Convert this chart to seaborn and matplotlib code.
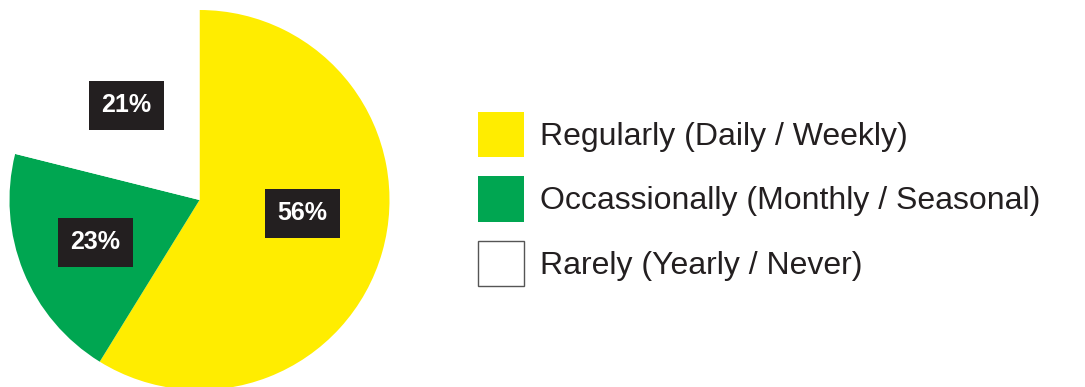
import matplotlib
matplotlib.use("Agg")
import matplotlib.pyplot as plt
from matplotlib.patches import Patch
import seaborn as sns

categories = ["Regularly (Daily / Weekly)",
              "Occassionally (Monthly / Seasonal)",
              "Rarely (Yearly / Never)"]
# printed percentage labels
pct_labels = [56, 23, 21]
# slice shares as drawn in the picture (measured from slice boundaries)
drawn_shares = [58.8, 20.1, 21.1]
colors = ["#FFED00", "#00A651", "#FFFFFF"]

sns.set_theme(style="white")
plt.rcParams['font.family'] = ['Liberation Sans', 'DejaVu Sans']

fig = plt.figure(figsize=(10.85, 3.87), dpi=100)
ax = fig.add_axes([9.5 / 1085, -3 / 387, 380 / 1085, 380 / 387])

ax.pie(drawn_shares, colors=colors, startangle=90, counterclock=False,
       wedgeprops=dict(linewidth=0, edgecolor="none"))

# label boxes positioned by the printed percentages
_, _, autotexts = ax.pie(
    pct_labels, colors=colors, startangle=90, counterclock=False,
    autopct=lambda p: f"{p:.0f}%", pctdistance=0.58, center=(-0.03, 0.04),
    wedgeprops=dict(visible=False),
    textprops=dict(color="white", fontsize=18, fontweight="bold"))
for t in autotexts:
    t.set_bbox(dict(boxstyle="square,pad=0.5", fc="#231F20", ec="none"))

ax.set_xlim(-1, 1)
ax.set_ylim(-1, 1)
ax.set_aspect("equal")
ax.axis("off")

handles = [Patch(facecolor=c, edgecolor=("#555555" if c == "#FFFFFF" else c),
                 linewidth=(1 if c == "#FFFFFF" else 0)) for c in colors]
leg = fig.legend(handles, categories, loc="upper left",
                 bbox_to_anchor=(478 / 1085, 1 - 112 / 387),
                 frameon=False, borderpad=0, borderaxespad=0,
                 fontsize=23, handlelength=1.43, handleheight=1.8,
                 handletextpad=0.52, labelspacing=0.6)
for t in leg.get_texts():
    t.set_color("#231F20")

fig.savefig("out.png", dpi=100)
